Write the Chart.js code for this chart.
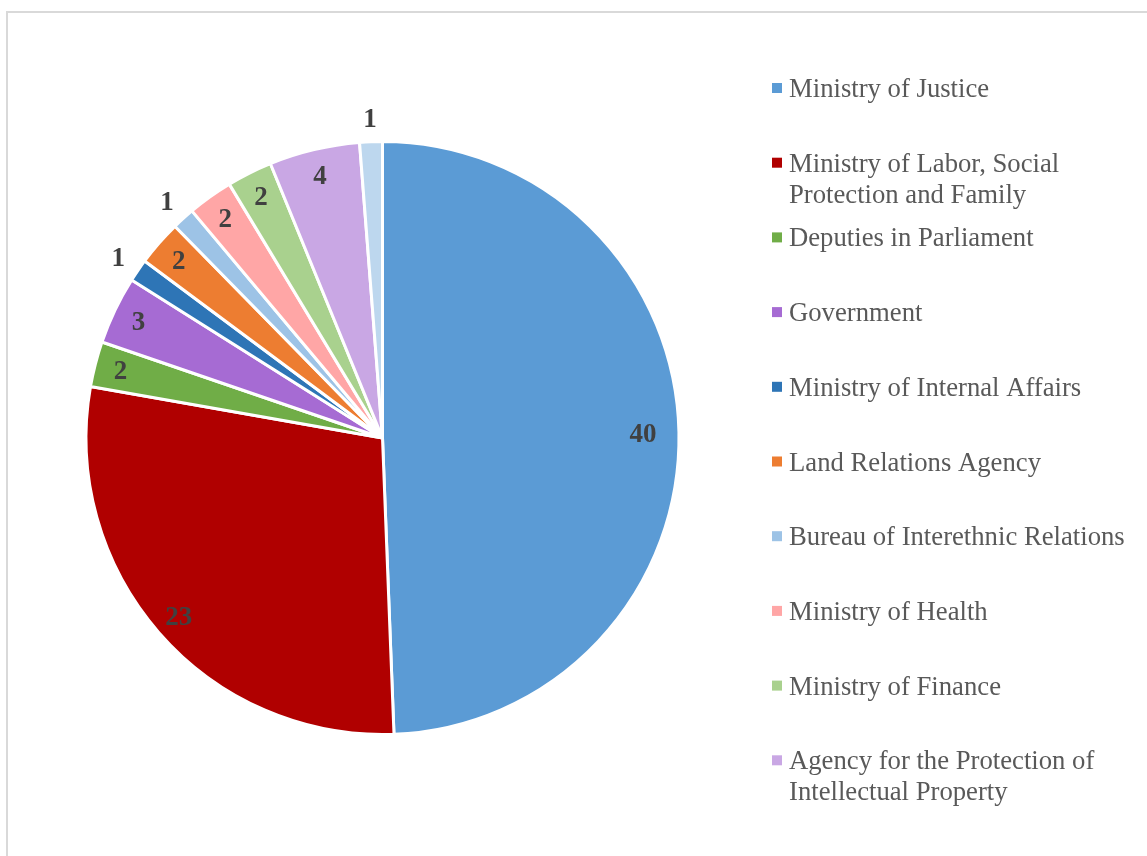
<!DOCTYPE html>
<html><head><meta charset="utf-8">
<script src="https://cdn.jsdelivr.net/npm/chart.js@4.4.0/dist/chart.umd.min.js"></script>
<style>
html,body{margin:0;padding:0;background:#fff;overflow:hidden}
#wrap{position:relative;width:1147px;height:856px;background:#fff}
#frame{position:absolute;left:6px;top:11px;width:1200px;height:900px;border:2px solid #d9d9d9;box-sizing:border-box;pointer-events:none}
canvas{position:absolute;left:0;top:0}
</style></head><body>
<div id="wrap"><canvas id="c" width="1147" height="856"></canvas><div id="frame"></div></div>
<script>
const categories = [
  "Ministry of Justice",
  "Ministry of Labor, Social Protection and Family",
  "Deputies in Parliament",
  "Government",
  "Ministry of Internal Affairs",
  "Land Relations Agency",
  "Bureau of Interethnic Relations",
  "Ministry of Health",
  "Ministry of Finance",
  "Agency for the Protection of Intellectual Property",
  "Other"
];
const values = [40, 23, 2, 3, 1, 2, 1, 2, 2, 4, 1];
const colors = ["#5B9BD5","#B00000","#70AD47","#A66BD3","#2E75B6","#ED7D31","#9DC3E6","#FFA6A6","#A9D18E","#C9A7E4","#BDD7EE"];

const SERIF = '"Liberation Serif", "Times New Roman", serif';

function wrapText(ctx, text, maxW) {
  const words = text.split(' ');
  const lines = [];
  let cur = '';
  words.forEach(w => {
    const test = cur ? cur + ' ' + w : w;
    if (ctx.measureText(test).width > maxW && cur) { lines.push(cur); cur = w; }
    else cur = test;
  });
  if (cur) lines.push(cur);
  return lines;
}

const sliceLabels = {
  id: 'sliceLabels',
  afterDatasetsDraw(chart) {
    const ctx = chart.ctx;
    const meta = chart.getDatasetMeta(0);
    ctx.save();
    ctx.font = 'bold 27px ' + SERIF;
    ctx.fillStyle = '#404040';
    ctx.textAlign = 'center';
    ctx.textBaseline = 'middle';
    meta.data.forEach((arc, i) => {
      const p = arc.getProps(['x','y','startAngle','endAngle','outerRadius'], true);
      const mid = (p.startAngle + p.endAngle) / 2;
      const span = p.endAngle - p.startAngle;
      const r = span < 0.1 ? p.outerRadius + 24 : (span > 2.5 ? p.outerRadius - 36 : p.outerRadius - 26);
      ctx.fillText(String(chart.data.datasets[0].data[i]), p.x + Math.cos(mid) * r, p.y + Math.sin(mid) * r + 2);
    });
    ctx.restore();
  }
};

const sideLegend = {
  id: 'sideLegend',
  afterDraw(chart) {
    const ctx = chart.ctx;
    ctx.save();
    ctx.font = '26.7px ' + SERIF;
    ctx.textAlign = 'left';
    ctx.textBaseline = 'alphabetic';
    const labels = chart.data.labels;
    const bg = chart.data.datasets[0].backgroundColor;
    labels.forEach((name, i) => {
      const base = 97 + i * 74.7;
      const lines = wrapText(ctx, name, 350);
      const bottom = base + (lines.length - 1) * 31 + 8;
      if (bottom > 830) return;
      ctx.fillStyle = bg[i];
      ctx.fillRect(772, base - 14, 10, 10);
      ctx.fillStyle = '#595959';
      lines.forEach((l, j) => ctx.fillText(l, 789, base + j * 31));
    });
    ctx.restore();
  }
};

new Chart(document.getElementById('c'), {
  type: 'pie',
  data: {
    labels: categories,
    datasets: [{
      data: values,
      backgroundColor: colors,
      borderColor: '#ffffff',
      borderWidth: 3
    }]
  },
  options: {
    responsive: false,
    animation: false,
    layout: { padding: { left: 84.5, right: 466.5, top: 140, bottom: 120 } },
    plugins: { legend: { display: false }, tooltip: { enabled: false } }
  },
  plugins: [sliceLabels, sideLegend]
});
</script>
</body></html>
